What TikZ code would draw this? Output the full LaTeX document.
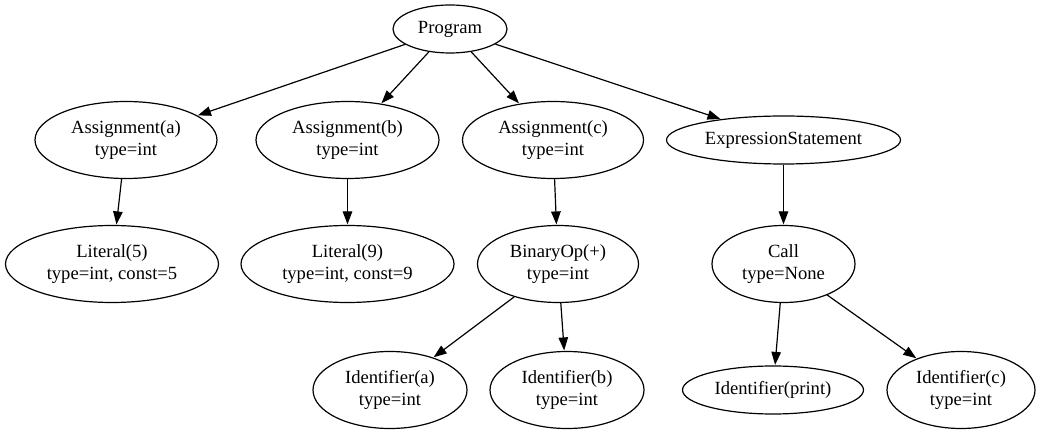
\documentclass[tikz,border=0pt]{standalone}
\usepackage{fontspec}
\setmainfont{Liberation Serif}
\usetikzlibrary{shapes.geometric,arrows.meta}
\tikzset{
  nd/.style={draw, ellipse, line width=1.2pt, inner sep=0pt, align=center,
    font=\fontsize{18.6pt}{22pt}\selectfont},
  edge/.style={line width=1.2pt, -{Triangle[length=13pt,width=9.5pt]}, shorten >=0.5pt}
}
\begin{document}
\begin{tikzpicture}[x=1pt,y=-1pt]
\useasboundingbox (0,0) rectangle (1052,435);
\node[nd, minimum width=114pt, minimum height=48pt] (prog) at (450,29) {Program};
\node[nd, minimum width=182pt, minimum height=77pt] (asa) at (126,140) {Assignment(a)\\type=int};
\node[nd, minimum width=183pt, minimum height=77pt] (asb) at (347.5,140) {Assignment(b)\\type=int};
\node[nd, minimum width=181pt, minimum height=77pt] (asc) at (553,140) {Assignment(c)\\type=int};
\node[nd, minimum width=234pt, minimum height=48pt] (exs) at (783.5,140) {ExpressionStatement};
\node[nd, minimum width=213pt, minimum height=77pt] (lit5) at (112,264) {Literal(5)\\type=int, const=5};
\node[nd, minimum width=213pt, minimum height=77pt] (lit9) at (347.5,264) {Literal(9)\\type=int, const=9};
\node[nd, minimum width=161pt, minimum height=77pt] (bin) at (558,264) {BinaryOp(+)\\type=int};
\node[nd, minimum width=143pt, minimum height=77pt] (call) at (783.5,264) {Call\\type=None};
\node[nd, minimum width=154pt, minimum height=77pt] (ida) at (390,390) {Identifier(a)\\type=int};
\node[nd, minimum width=154pt, minimum height=77pt] (idb) at (567,390) {Identifier(b)\\type=int};
\node[nd, minimum width=181pt, minimum height=48pt] (idp) at (773,390) {Identifier(print)};
\node[nd, minimum width=148pt, minimum height=77pt] (idc) at (961,390) {Identifier(c)\\type=int};
\draw[edge] (prog) -- (asa);
\draw[edge] (prog) -- (asb);
\draw[edge] (prog) -- (asc);
\draw[edge] (prog) -- (exs);
\draw[edge] (asa) -- (lit5);
\draw[edge] (asb) -- (lit9);
\draw[edge] (asc) -- (bin);
\draw[edge] (exs) -- (call);
\draw[edge] (bin) -- (ida);
\draw[edge] (bin) -- (idb);
\draw[edge] (call) -- (idp);
\draw[edge] (call) -- (idc);
\end{tikzpicture}
\end{document}
